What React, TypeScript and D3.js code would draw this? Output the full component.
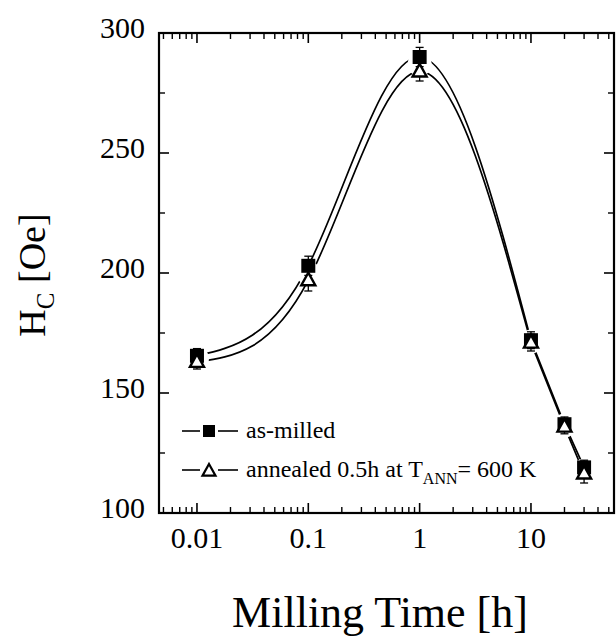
import React from "react";
import * as d3 from "d3";

const times = [0.01, 0.1, 1, 10, 20, 30];
const asMilled = [165.5, 203, 290, 172, 137, 119];
const asMilledErr = [3, 4, 4, 3.5, 3, 3];
const annealed = [163, 197, 284, 171, 136, 116.5];
const annealedErr = [3, 4.5, 4, 3.5, 3, 4];
const xTickLabels = ["0.01", "0.1", "1", "10"];
const yTickValues = [100, 150, 200, 250, 300];

const W = 616;
const H = 637;
const L = 159, R = 614, T = 33, B = 513;
const FONT = "Liberation Serif";

export default function App() {
  const x = d3.scaleLog().domain([0.00456, 55.7]).range([L, R]);
  const y = d3.scaleLinear().domain([100, 300]).range([B, T]);

  const majorX = xTickLabels.map(Number);
  const minorX: number[] = [];
  for (const dec of [0.001, 0.01, 0.1, 1, 10]) {
    for (let k = 2; k <= 9; k++) {
      const v = dec * k;
      if (v >= 0.00456 && v <= 55.7) minorX.push(v);
    }
  }
  const minorY = [125, 175, 225, 275];

  const curvePath = (vals: number[]) => {
    const pts: [number, number][] = times.map((t, i) => [x(t), y(vals[i])]);
    const spline = d3.line().curve(d3.curveNatural)(pts.slice(0, 4)) || "";
    const lin = d3.line()(pts.slice(3)) || "";
    return spline + " " + lin;
  };

  const MAJ = 10, MIN = 6;

  const sq = 14;
  const triPath = (cx: number, cy: number, s: number) => {
    const h = s * 0.9;
    return `M${cx},${cy - h * 0.6} L${cx + s / 2},${cy + h * 0.4} L${cx - s / 2},${cy + h * 0.4} Z`;
  };

  const errBar = (cx: number, v: number, e: number, key: string) => (
    <g key={key} stroke="#000" strokeWidth={1.3}>
      <line x1={cx} x2={cx} y1={y(v + e)} y2={y(v - e)} />
      <line x1={cx - 4} x2={cx + 4} y1={y(v + e)} y2={y(v + e)} />
      <line x1={cx - 4} x2={cx + 4} y1={y(v - e)} y2={y(v - e)} />
    </g>
  );

  return (
    <svg width={W} height={H} style={{ position: "absolute", left: 0, top: 0, background: "#fff", fontFamily: FONT }}>
      <rect width={W} height={H} fill="#fff" />
      {/* curves */}
      <path d={curvePath(asMilled)} fill="none" stroke="#000" strokeWidth={1.7} />
      <path d={curvePath(annealed)} fill="none" stroke="#000" strokeWidth={1.7} />
      {/* gaps around markers */}
      {times.map((t, i) => (
        <circle key={"m" + i} cx={x(t)} cy={y((asMilled[i] + annealed[i]) / 2)} r={12} fill="#fff" />
      ))}
      {/* error bars */}
      {times.map((t, i) => errBar(x(t), asMilled[i], asMilledErr[i], "ea" + i))}
      {times.map((t, i) => errBar(x(t), annealed[i], annealedErr[i], "eb" + i))}
      {/* markers */}
      {times.map((t, i) => (
        <rect key={"s" + i} x={x(t) - sq / 2} y={y(asMilled[i]) - sq / 2} width={sq} height={sq} fill="#000" />
      ))}
      {times.map((t, i) => (
        <path key={"t" + i} d={triPath(x(t), y(annealed[i]), 14)} fill="#fff" stroke="#000" strokeWidth={2.4} strokeLinejoin="miter" />
      ))}
      {/* axes frame */}
      <rect x={L} y={T} width={R - L} height={B - T} fill="none" stroke="#000" strokeWidth={2.2} />
      {/* x ticks */}
      {majorX.map((v) => (
        <g key={"xM" + v} stroke="#000" strokeWidth={1.6}>
          <line x1={x(v)} x2={x(v)} y1={B} y2={B - MAJ} />
          <line x1={x(v)} x2={x(v)} y1={T} y2={T + MAJ} />
        </g>
      ))}
      {minorX.map((v) => (
        <g key={"xm" + v} stroke="#000" strokeWidth={1.4}>
          <line x1={x(v)} x2={x(v)} y1={B} y2={B - MIN} />
          <line x1={x(v)} x2={x(v)} y1={T} y2={T + MIN} />
        </g>
      ))}
      {/* y ticks */}
      {yTickValues.map((v) => (
        <g key={"yM" + v} stroke="#000" strokeWidth={1.6}>
          <line x1={L} x2={L + MAJ} y1={y(v)} y2={y(v)} />
          <line x1={R} x2={R - MAJ} y1={y(v)} y2={y(v)} />
        </g>
      ))}
      {minorY.map((v) => (
        <g key={"ym" + v} stroke="#000" strokeWidth={1.4}>
          <line x1={L} x2={L + MIN} y1={y(v)} y2={y(v)} />
          <line x1={R} x2={R - MIN} y1={y(v)} y2={y(v)} />
        </g>
      ))}
      {/* tick labels */}
      {xTickLabels.map((lab) => (
        <text key={"xl" + lab} x={x(Number(lab))} y={548} textAnchor="middle" fontSize={30} fill="#000">
          {lab}
        </text>
      ))}
      {yTickValues.map((v) => (
        <text key={"yl" + v} x={145} y={y(v) + 5} textAnchor="end" fontSize={30} fill="#000">
          {v}
        </text>
      ))}
      {/* axis titles */}
      <text x={380} y={627} textAnchor="middle" fontSize={44} fill="#000">Milling Time [h]</text>
      <text transform="translate(45,275) rotate(-90)" textAnchor="middle" fontSize={38} fill="#000">
        H<tspan fontSize={25} dy={9}>C</tspan><tspan dy={-9}> [Oe]</tspan>
      </text>
      {/* legend */}
      <g stroke="#000" strokeWidth={1.6}>
        <line x1={182} x2={200} y1={431} y2={431} />
        <line x1={218} x2={238} y1={431} y2={431} />
        <line x1={182} x2={200} y1={470} y2={470} />
        <line x1={218} x2={238} y1={470} y2={470} />
      </g>
      <rect x={203} y={425} width={12} height={12} fill="#000" />
      <path d={triPath(209, 471, 13)} fill="#fff" stroke="#000" strokeWidth={2.2} />
      <text x={246} y={438} fontSize={24} fill="#000">as-milled</text>
      <text x={246} y={477} fontSize={24} fill="#000">
        annealed 0.5h at T<tspan fontSize={16} dy={7}>ANN</tspan><tspan dy={-7}>= 600 K</tspan>
      </text>
    </svg>
  );
}
